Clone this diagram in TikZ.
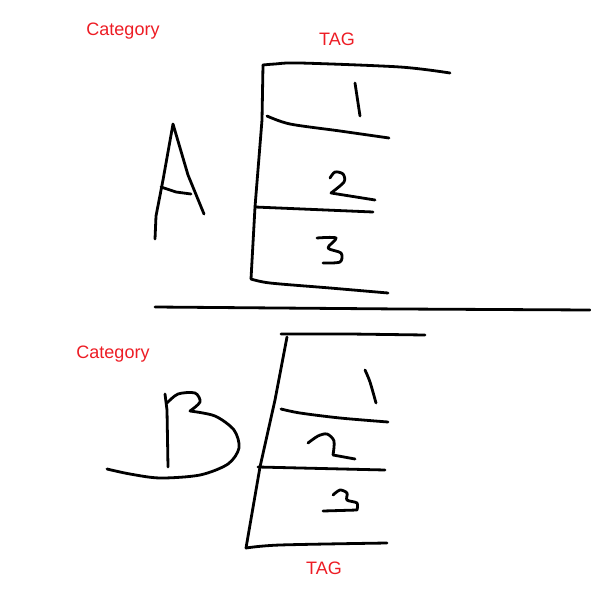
\documentclass[tikz,border=0pt]{standalone}
\usepackage{fontspec}
\setmainfont{Liberation Sans}
\usepackage{xcolor}
\definecolor{paintred}{RGB}{237,28,36}

\begin{document}
\begin{tikzpicture}[x=1pt,y=-1pt,
    pen/.style={line width=2.8pt, line cap=round, line join=round},
    label/.style={text=paintred, font=\fontsize{18}{20}\selectfont, inner sep=0pt}]
            \useasboundingbox (0,0) rectangle (590,599);
            % labels
            \node[label] (catA) at (123,31) {Category};
            \node[label] (tagA) at (337,39) {TAG};
            \node[label] (catB) at (113,354) {Category};
            \node[label] (tagB) at (324,568) {TAG};
            % letter A
            \draw[pen] (155,239) -- (156,216) -- (163,180) -- (173,124) -- (188,175) -- (204,214); % legs
            \draw[pen] (161,187) -- (176,192) -- (191,194); % crossbar
            % box A
            \draw[pen] plot[smooth] coordinates {(263,65) (275,64) (300,63) (400,67) (450,73)}; % top
            \draw[pen] (263,65) -- (262,120) -- (255,207) -- (251,279); % left edge
            \draw[pen] plot[smooth] coordinates {(267,116) (290,124) (340,131) (389,138)}; % under 1
            \draw[pen] (255,207) -- (373,212); % middle
            \draw[pen] plot[smooth] coordinates {(251,279) (270,283) (330,288) (388,293)}; % bottom
            % digits A
            \draw[pen] (355,83) -- (360,116); % 1
            \draw[pen] plot[smooth] coordinates {(330,178) (335,172) (343,174) (344,182) (331,193)} -- (375,200); % 2
            \draw[pen] plot[smooth] coordinates {(317,238) (336,238) (328,248) (341,253) (340,262) (323,263)}; % 3
            % separator
            \draw[pen] (155,307) -- (400,309) -- (590,310);
            % letter B
            \draw[pen] (165,394) -- (167,410) -- (168,467); % stem
            \draw[pen] plot[smooth] coordinates {(167,403) (178,394) (195,393) (200,402) (190,411)}; % top bowl
            \draw[pen] plot[smooth] coordinates {(190,411) (215,416) (234,430) (239,448) (228,464) (200,475) (160,478) (130,474) (107,469)}; % lower bowl
            % box B
            \draw[pen] (281,334) -- (350,334) -- (425,335); % top
            \draw[pen] (287,337) -- (275,400) -- (260,467) -- (246,548); % left edge
            \draw[pen] plot[smooth] coordinates {(281,409) (300,413) (340,418) (388,422)}; % under 1
            \draw[pen] (258,467) -- (385,470); % middle
            \draw[pen] plot[smooth] coordinates {(246,548) (280,545) (387,543)}; % bottom
            % digits B
            \draw[pen] plot[smooth] coordinates {(365,370) (370,382) (376,403)}; % 1
            \draw[pen] plot[smooth] coordinates {(308,443) (318,436) (327,434) (334,441) (333,455)} -- (355,459); % 2
            \draw[pen] plot[smooth] coordinates {(333,495) (340,490) (347,493) (347,500) (357,503) (357,510)} -- (323,511); % 3
        \end{tikzpicture}
\end{document}
